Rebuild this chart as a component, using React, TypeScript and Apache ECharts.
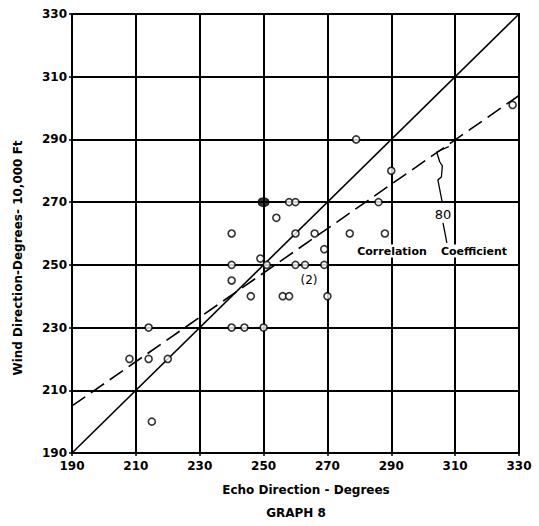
import React, { useEffect, useRef } from "react";
import * as echarts from "echarts";

// Observations (echo direction vs wind direction at 10,000 ft), degrees
const echoDir = [
  215, 208, 214, 220, 214, 240, 244, 250, 246, 256, 258, 270, 240,
  240, 251, 260, 263, 269, 249, 269, 240, 260, 266, 277, 288, 254,
  258, 260, 286, 290, 279, 328,
];
const windDir = [
  200, 220, 220, 220, 230, 230, 230, 230, 240, 240, 240, 240, 245,
  250, 250, 250, 250, 250, 252, 255, 260, 260, 260, 260, 260, 265,
  270, 270, 270, 280, 290, 301,
];
// several coincident observations drawn as a solid dot
const clusterEcho = [250];
const clusterWind = [270];

// line of perfect agreement
const equalX = [190, 330];
const equalY = [190, 330];
// regression line (correlation coefficient .80)
const regrX = [190, 330];
const regrY = [205, 304];
// leader from the regression line to the ".80" label
const leaderX = [308, 304.2, 305.2, 306, 305.7, 304.6, 305.2, 306];
const leaderY = [287.7, 286, 282.8, 281.6, 278, 277.1, 273.9, 269.8];
const leader2X = [306.2, 307.4];
const leader2Y = [263.4, 257];

const axisMin = 190;
const axisMax = 330;
const axisStep = 10 * 2;

const FONT = "DejaVu Sans";

export default function App() {
  const ref = useRef<HTMLDivElement>(null);
  useEffect(() => {
    if (!ref.current) return;
    const chart = echarts.init(ref.current, null, { renderer: "svg" });
    const zip = (a: number[], b: number[]) => a.map((v, i) => [v, b[i]]);
    const axisCommon = {
      type: "value" as const,
      min: axisMin,
      max: axisMax,
      interval: axisStep,
      axisLine: { show: true, lineStyle: { color: "#000", width: 2 } },
      axisTick: { show: true, length: 3, lineStyle: { color: "#000", width: 1.5 } },
      splitLine: { show: true, lineStyle: { color: "#000", width: 2 } },
      axisLabel: {
        color: "#000",
        fontFamily: FONT,
        fontWeight: "bold" as const,
        fontSize: 12,
      },
    };
    const annText = (text: string, x: number, y: number, size: number, bold: boolean, bg: boolean) => ({
      type: "text",
      x,
      y,
      z: 100,
      style: {
        text,
        fontFamily: FONT,
        fontWeight: bold ? "bold" : "normal",
        fontSize: size,
        fill: "#000",
        align: "center",
        verticalAlign: "middle",
        backgroundColor: bg ? "#fff" : undefined,
        padding: bg ? [1, 2] : 0,
      },
    });
    chart.setOption({
      animation: false,
      backgroundColor: "#fff",
      grid: {
        left: 72,
        right: 20,
        top: 14,
        bottom: 73,
        show: true,
        borderColor: "#000",
        borderWidth: 2,
      },
      xAxis: {
        ...axisCommon,
        axisLabel: { ...axisCommon.axisLabel, margin: 7 },
      },
      yAxis: {
        ...axisCommon,
        axisLabel: { ...axisCommon.axisLabel, margin: 5 },
      },
      graphic: [
        annText("Echo Direction - Degrees", 306, 490, 12, true, false),
        annText("GRAPH 8", 296, 513, 12, true, false),
        {
          type: "text",
          x: 18,
          y: 258,
          rotation: Math.PI / 2,
          style: {
            text: "Wind Direction-Degrees- 10,000 Ft",
            fontFamily: FONT,
            fontWeight: "bold",
            fontSize: 12,
            fill: "#000",
            align: "center",
            verticalAlign: "middle",
          },
        },
        annText("Correlation", 392, 251, 11, true, true),
        annText("Coefficient", 474, 251, 11, true, true),
        annText("80", 443, 214, 13, false, true),
        annText("(2)", 309, 280, 12, false, false),
      ],
      series: [
        {
          type: "line",
          data: zip(equalX, equalY),
          symbol: "none",
          lineStyle: { color: "#000", width: 1.6 },
          z: 3,
        },
        {
          type: "line",
          data: zip(regrX, regrY),
          symbol: "none",
          lineStyle: { color: "#000", width: 1.6, type: [16, 7] },
          z: 3,
        },
        {
          type: "line",
          data: zip(leaderX, leaderY),
          symbol: "none",
          lineStyle: { color: "#000", width: 1.3 },
          z: 3,
        },
        {
          type: "line",
          data: zip(leader2X, leader2Y),
          symbol: "none",
          lineStyle: { color: "#000", width: 1.3 },
          z: 3,
        },
        {
          type: "scatter",
          data: zip(echoDir, windDir),
          symbol: "circle",
          symbolSize: 7,
          itemStyle: { color: "#fff", borderColor: "#000", borderWidth: 1.6 },
          z: 5,
        },
        {
          type: "scatter",
          data: zip(clusterEcho, clusterWind),
          symbol: "circle",
          symbolSize: [11, 9],
          itemStyle: { color: "#000", borderColor: "#000", borderWidth: 1 },
          z: 5,
        },
      ],
    });
    return () => chart.dispose();
  }, []);
  return (
    <div
      ref={ref}
      style={{ position: "fixed", left: 0, top: 0, width: 539, height: 526 }}
    />
  );
}
